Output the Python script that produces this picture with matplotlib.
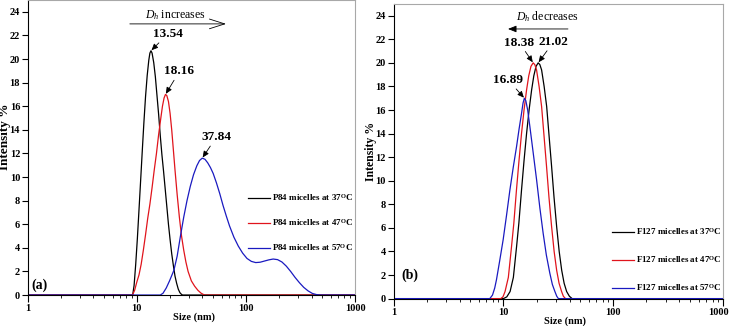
import numpy as np
import matplotlib
matplotlib.use('Agg')
import matplotlib.pyplot as plt
from matplotlib.patches import ArrowStyle
from matplotlib.transforms import ScaledTranslation

plt.rcParams['font.family'] = ['Liberation Serif', 'DejaVu Serif']
plt.rcParams['font.weight'] = 'bold'
plt.rcParams['mathtext.fontset'] = 'custom'
plt.rcParams['mathtext.rm'] = 'Liberation Serif:normal'
plt.rcParams['mathtext.it'] = 'Liberation Serif:italic:normal'
plt.rcParams['mathtext.bf'] = 'Liberation Serif:bold'

# ---- panel (a): P84 micelles (size in nm, intensity in %) ----
size_p84_37 = [1, 9.16, 9.44, 9.77, 10.12, 10.47, 10.84, 11.22, 11.61, 12.02, 12.45, 12.88,
               13.18, 13.49, 13.80, 14.29, 14.79, 15.31, 15.85, 16.41, 16.98, 17.58, 18.20,
               18.84, 19.50, 20.18, 20.89, 21.63, 22.39, 23.17, 23.99, 24.83, 25.70, 26.30, 1000]
int_p84_37 = [0, 0, 0.8, 2.6, 4.8, 7.2, 9.7, 12.2, 14.6, 16.8, 18.6, 19.9,
              20.5, 20.7, 20.5, 19.7, 18.5, 16.9, 15.3, 13.5, 11.9, 10.5, 9.0,
              7.5, 6.0, 4.7, 3.5, 2.5, 1.6, 1.0, 0.5, 0.2, 0.05, 0, 0]

size_p84_47 = [1, 9.12, 9.55, 10.0, 10.47, 10.96, 11.48, 12.02, 12.59, 13.18, 13.80, 14.45,
               15.14, 15.85, 16.22, 16.60, 17.18, 17.78, 18.32, 18.84, 19.50, 20.18, 20.89,
               21.63, 22.39, 23.44, 24.55, 25.70, 26.92, 28.18, 29.51, 31.62, 33.88, 36.31,
               38.90, 41.69, 1000]
int_p84_47 = [0, 0, 0.4, 1.1, 1.7, 2.6, 3.8, 5.1, 6.5, 7.7, 9.1, 10.6,
              12.0, 13.6, 14.3, 15.0, 16.0, 16.7, 17.0, 16.9, 16.4, 15.4, 14.0,
              12.3, 10.6, 8.5, 6.6, 5.0, 3.8, 2.8, 2.0, 1.2, 0.75, 0.4,
              0.15, 0, 0]

size_p84_57 = [1, 16.41, 17.38, 18.62, 19.95, 21.88, 23.44, 25.12, 26.92, 28.84, 30.90,
               33.11, 35.48, 37.58, 39.81, 42.17, 44.67, 47.32, 50.12, 53.70, 57.54, 61.66,
               66.07, 70.79, 77.62, 85.11, 93.33, 102.3, 112.2, 123.0, 134.9, 147.9, 162.2,
               177.8, 195.0, 213.8, 234.4, 257.0, 281.8, 309.0, 338.8, 371.5, 407.4, 446.7,
               489.8, 1000]
int_p84_57 = [0, 0, 0.15, 0.6, 1.2, 2.1, 3.3, 5.0, 6.6, 8.0, 9.2,
              10.2, 10.95, 11.4, 11.6, 11.5, 11.2, 10.8, 10.3, 9.5, 8.6, 7.6,
              6.7, 5.85, 4.9, 4.15, 3.55, 3.1, 2.85, 2.75, 2.78, 2.88, 2.98,
              3.05, 3.0, 2.8, 2.45, 2.0, 1.5, 1.05, 0.65, 0.35, 0.13, 0.03,
              0, 0]

peaks_a = ['13.54', '18.16', '37.84']
legend_a = ['P84 micelles at 37$^{\\mathbf{O}}$C',
            'P84 micelles at 47$^{\\mathbf{O}}$C',
            'P84 micelles at 57$^{\\mathbf{O}}$C']

# ---- panel (b): F127 micelles ----
size_f127_37 = [1, 10.0, 10.72, 11.48, 12.30, 13.15, 13.80, 14.59, 15.38, 16.22, 17.10,
                18.03, 18.88, 19.77, 20.70, 21.43, 22.23, 23.44, 24.72, 26.00, 27.42, 28.84,
                30.48, 32.14, 33.88, 35.65, 37.58, 39.81, 42.17, 1000]
int_f127_37 = [0, 0, 0.15, 0.6, 1.8, 4.4, 6.4, 9.2, 11.7, 14.0, 16.0,
               17.7, 18.9, 19.7, 20.0, 19.85, 19.4, 18.0, 16.3, 13.8, 11.2, 8.6,
               6.1, 4.0, 2.4, 1.3, 0.6, 0.2, 0, 0]

size_f127_47 = [1, 9.44, 9.89, 10.33, 11.07, 11.83, 12.42, 13.12, 13.84, 14.59, 15.38,
                16.22, 16.98, 17.78, 18.62, 19.28, 20.0, 21.09, 22.23, 23.39, 24.66, 25.94,
                27.42, 28.91, 30.48, 32.06, 33.81, 35.08, 36.73, 1000]
int_f127_47 = [0, 0, 0.15, 0.6, 1.8, 4.4, 6.4, 9.2, 11.7, 14.0, 16.0,
               17.7, 18.9, 19.7, 20.0, 19.85, 19.4, 18.0, 16.3, 13.8, 11.2, 8.6,
               6.1, 4.0, 2.4, 1.3, 0.6, 0.2, 0, 0]

size_f127_57 = [1, 7.50, 7.94, 8.32, 8.63, 9.23, 9.93, 10.67, 11.43, 12.25, 13.15, 13.87,
                14.59, 15.07, 15.49, 15.96, 16.60, 17.38, 18.62, 20.0, 21.43, 22.96, 24.55,
                26.42, 27.86, 29.38, 30.55, 31.62, 1000]
int_f127_57 = [0, 0, 0.3, 0.9, 1.6, 3.2, 5.0, 7.1, 9.2, 11.1, 12.9, 14.4,
               15.7, 16.6, 17.0, 16.8, 16.0, 14.6, 12.4, 10.1, 7.7, 5.55, 3.7,
               2.15, 1.2, 0.6, 0.2, 0, 0]

peaks_b = ['21.02', '18.38', '16.89']
legend_b = ['F127 micelles at 37$^{\\mathbf{O}}$C',
            'F127 micelles at 47$^{\\mathbf{O}}$C',
            'F127 micelles at 57$^{\\mathbf{O}}$C']

colors = ['#000000', '#e0141c', '#1a1ac0']


def style_axes(ax, ylabel_size):
    ax.set_xscale('log')
    ax.set_xlim(1, 1000)
    ax.set_ylim(0, 25)
    ax.set_yticks(np.arange(0, 25, 2))
    ax.set_xticks([1, 10, 100, 1000])
    ax.set_xticklabels(['1', '10', '100', '1000'])
    ax.tick_params(axis='both', which='major', labelsize=7.5, width=0.8, pad=1.5)
    ax.tick_params(axis='x', which='major', length=5)
    ax.tick_params(axis='y', which='major', length=4)
    ax.tick_params(axis='x', which='minor', length=2.5, width=0.6)
    for s in ['left', 'bottom']:
        ax.spines[s].set_color('black')
        ax.spines[s].set_linewidth(0.8)
    for s in ['top', 'right']:
        ax.spines[s].set_color('#a8a8a8')
        ax.spines[s].set_linewidth(0.8)
    ax.set_xlabel('Size (nm)', fontsize=7.5, fontweight='bold')
    ax.set_ylabel('Intensity %', fontsize=ylabel_size, fontweight='bold')


def peak_label(ax, xs, ys, text, dx, dy):
    i = int(np.argmax(ys))
    ax.annotate(text, xy=(xs[i], ys[i]), xytext=(dx, dy), textcoords='offset points',
                ha='center', va='center', fontsize=9.5, fontweight='bold',
                arrowprops=dict(arrowstyle=ArrowStyle('-|>', head_length=0.4, head_width=0.18),
                                color='black', lw=0.6, shrinkA=0, shrinkB=0.5))


fig = plt.figure(figsize=(7.29, 3.26), dpi=100)
ax1 = fig.add_axes([0.038, 0.095, 0.449, 0.905])
ax2 = fig.add_axes([0.540, 0.084, 0.452, 0.904])

# panel (a)
series_a = [(size_p84_37, int_p84_37), (size_p84_47, int_p84_47), (size_p84_57, int_p84_57)]
for (xs, ys), c, lab in zip(series_a, colors, legend_a):
    ax1.plot(xs, ys, color=c, lw=0.9, label=lab)
style_axes(ax1, 9.5)
ax1.xaxis.set_label_coords(0.508, -0.06)
ax1.yaxis.set_label_coords(-0.052, 0.536)
peak_label(ax1, size_p84_37, int_p84_37, peaks_a[0], 12, 12)
peak_label(ax1, size_p84_47, int_p84_47, peaks_a[1], 10, 16.5)
peak_label(ax1, size_p84_57, int_p84_57, peaks_a[2], 10, 15)
ax1.text(0.45, 0.949, '$D_h$ increases', transform=ax1.transAxes, ha='center', va='center',
         fontsize=8.5, fontweight='normal')
ax1.annotate('', xy=(0.606, 0.919), xytext=(0.312, 0.919), xycoords='axes fraction',
             arrowprops=dict(arrowstyle=ArrowStyle('->', head_length=1.1, head_width=0.35),
                             color='black', lw=0.6, shrinkA=0, shrinkB=0, mutation_scale=10))
ax1.text(0.012, 0.034, '(a)', transform=ax1.transAxes, ha='left', va='center',
         fontsize=10, fontweight='bold')
ax1.legend(loc='center left', bbox_to_anchor=(0.673, 0.246), frameon=False, fontsize=6.5,
           handlelength=2.4, handletextpad=0.3, labelspacing=1.55, borderpad=0, borderaxespad=0)

# panel (b)
series_b = [(size_f127_37, int_f127_37), (size_f127_47, int_f127_47), (size_f127_57, int_f127_57)]
for (xs, ys), c, lab in zip(series_b, colors, legend_b):
    ax2.plot(xs, ys, color=c, lw=0.9, label=lab)
style_axes(ax2, 8.5)
ax2.xaxis.set_label_coords(0.52, -0.059)
ax2.yaxis.set_label_coords(-0.052, 0.50)
peak_label(ax2, size_f127_37, int_f127_37, peaks_b[0], 11, 15)
peak_label(ax2, size_f127_47, int_f127_47, peaks_b[1], -10, 14.5)
peak_label(ax2, size_f127_57, int_f127_57, peaks_b[2], -11.5, 13)
ax2.text(0.465, 0.956, '$D_h$ decreases', transform=ax2.transAxes, ha='center', va='center',
         fontsize=8.5, fontweight='normal')
ax2.annotate('', xy=(0.347, 0.915), xytext=(0.529, 0.915), xycoords='axes fraction',
             arrowprops=dict(arrowstyle=ArrowStyle('-|>', head_length=0.5, head_width=0.2),
                             color='black', lw=0.6, shrinkA=0, shrinkB=0, mutation_scale=10))
ax2.text(0.024, 0.08, '(b)', transform=ax2.transAxes, ha='left', va='center',
         fontsize=10, fontweight='bold')
ax2.legend(loc='center left', bbox_to_anchor=(0.663, 0.133), frameon=False, fontsize=6.5,
           handlelength=2.4, handletextpad=0.3, labelspacing=1.9, borderpad=0, borderaxespad=0)

# keep the last x tick label of panel (b) inside the figure
last_lbl = ax2.get_xticklabels()[-1]
last_lbl.set_transform(last_lbl.get_transform() + ScaledTranslation(-5 / 100, 0, fig.dpi_scale_trans))

fig.savefig('out.png', dpi=100)
